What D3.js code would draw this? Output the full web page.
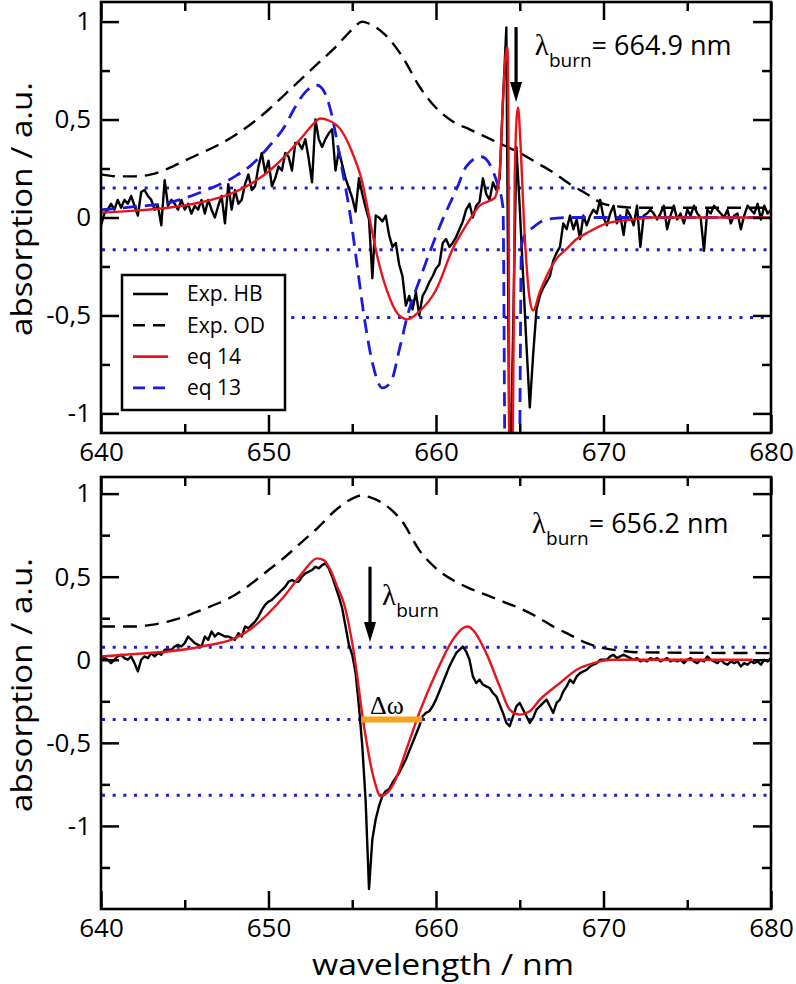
<!DOCTYPE html>
<html><head><meta charset="utf-8">
<script src="https://cdn.jsdelivr.net/npm/d3@7"></script>
<style>body{margin:0;background:#fff} svg{display:block}</style>
</head><body><svg id="c" width="796" height="984"></svg>
<script>
// ---------- DATA ----------
const hbStart = 640, hbStep = 0.2;
// Exp. HB, top panel (burn at 664.9 nm), one row per nm
const hbTop = [
-0.04, 0.02, 0.04, 0.07, 0.04,
0.09, 0.05, 0.09, 0.07, 0.11,
0.06, 0.01, 0.13, 0.14, 0.11,
0.09, 0.04, 0.06, -0.04, 0.19,
0.06, 0.09, 0.07, 0.04, 0.09,
0.04, 0.07, 0.02, 0.06, 0.04,
0.09, 0.02, 0.09, 0.04, 0.00,
0.06, 0.11, -0.03, 0.17, 0.04,
0.14, 0.07, 0.09, 0.17, 0.22,
0.14, 0.16, 0.26, 0.33, 0.23,
0.29, 0.16, 0.20, 0.26, 0.24,
0.33, 0.31, 0.24, 0.38, 0.38,
0.35, 0.40, 0.30, 0.18, 0.50,
0.40, 0.36, 0.40, 0.43, 0.45,
0.24, 0.34, 0.27, 0.20, 0.15,
0.10, 0.03, 0.20, 0.12, 0.05,
-0.01, -0.31, 0.01, 0.00, -0.02,
0.01, -0.09, -0.15, -0.13, -0.24,
-0.30, -0.45, -0.40, -0.47, -0.38,
-0.50, -0.40, -0.37, -0.33, -0.30,
-0.26, -0.24, -0.13, -0.11, -0.15,
-0.13, -0.10, -0.06, -0.02, 0.04,
0.07, 0.00, 0.06, 0.08, 0.20,
0.12, 0.09, 0.18, 0.14, 0.20,
0.60, 0.97, -1.50, -0.60, 0.36,
0.05, -0.30, -0.65, -0.97, -0.70,
-0.47, -0.40, -0.36, -0.33, -0.30,
-0.22, -0.18, -0.15, -0.03, -0.06,
0.01, -0.06, -0.01, -0.11, 0.01,
-0.04, 0.01, 0.04, 0.02, 0.09,
0.00, -0.04, 0.02, 0.06, -0.03,
0.01, -0.09, 0.04, 0.01, -0.04,
0.06, -0.15, 0.01, 0.02, 0.04,
0.02, -0.01, 0.02, 0.06, -0.06,
0.01, 0.06, -0.01, 0.02, -0.03,
0.04, 0.01, 0.06, 0.02, 0.00,
-0.17, 0.04, 0.02, 0.06, 0.04,
0.02, 0.00, 0.04, -0.03, 0.01,
0.02, -0.06, 0.01, 0.06, 0.04,
0.02, 0.07, -0.01, 0.06, 0.02,
0.04
];
// Exp. HB, bottom panel (burn at 656.2 nm)
const hbBottom = [
0.02, 0.01, 0.00, -0.02, 0.00,
0.02, 0.03, 0.01, 0.00, 0.02,
-0.02, -0.07, 0.00, 0.02, 0.01,
0.04, 0.02, 0.04, 0.03, 0.06,
0.06, 0.06, 0.08, 0.09, 0.08,
0.10, 0.14, 0.12, 0.10, 0.09,
0.08, 0.14, 0.12, 0.17, 0.14,
0.16, 0.15, 0.14, 0.14, 0.13,
0.12, 0.16, 0.14, 0.20, 0.19,
0.21, 0.23, 0.26, 0.30, 0.33,
0.35, 0.36, 0.38, 0.40, 0.42,
0.44, 0.47, 0.48, 0.47, 0.47,
0.50, 0.52, 0.53, 0.54, 0.56,
0.55, 0.57, 0.58, 0.55, 0.50,
0.44, 0.38, 0.31, 0.20, 0.09,
0.03, -0.08, -0.28, -0.52, -0.85,
-1.38, -1.08, -0.96, -0.88, -0.82,
-0.79, -0.78, -0.74, -0.71, -0.68,
-0.64, -0.60, -0.55, -0.50, -0.45,
-0.40, -0.34, -0.32, -0.31, -0.28,
-0.24, -0.19, -0.14, -0.09, -0.04,
0.00, 0.04, 0.06, 0.08, 0.05,
0.00, -0.10, -0.14, -0.12, -0.15,
-0.16, -0.17, -0.20, -0.22, -0.27,
-0.32, -0.38, -0.40, -0.34, -0.28,
-0.26, -0.30, -0.34, -0.38, -0.35,
-0.30, -0.28, -0.26, -0.24, -0.28,
-0.32, -0.26, -0.24, -0.19, -0.16,
-0.12, -0.14, -0.10, -0.08, -0.07,
-0.06, -0.04, -0.03, -0.02, 0.00,
0.00, 0.00, 0.02, 0.03, 0.01,
0.02, 0.03, 0.02, 0.01, 0.00,
0.01, -0.01, 0.00, -0.01, 0.01,
0.00, 0.01, -0.01, 0.00, 0.01,
-0.01, 0.00, -0.01, 0.00, -0.02,
0.00, 0.01, -0.01, -0.02, 0.00,
-0.01, 0.02, 0.00, -0.01, -0.02,
0.00, -0.02, -0.03, -0.01, -0.02,
-0.01, -0.04, -0.02, -0.03, -0.01,
-0.02, -0.01, -0.03, 0.00, -0.01,
0.01
];
// Exp. OD (black dashed)
const odTop = [[640,0.22],[641,0.21],[642,0.21],[643,0.22],[644,0.25],[645,0.29],[646,0.33],[647,0.37],[648,0.42],[649,0.48],[650,0.55],[651,0.63],[652,0.71],[653,0.79],[654,0.87],[655,0.96],[655.6,1.0],[656,0.99],[657,0.93],[658,0.82],[659,0.67],[660,0.56],[661,0.49],[662,0.45],[663,0.41],[664,0.37],[665,0.33],[666,0.28],[667,0.23],[668,0.17],[669,0.12],[670,0.07],[671,0.055],[672,0.05],[680,0.05]];
const odBottom = [[640,0.2],[641,0.2],[642,0.2],[643,0.21],[644,0.23],[645,0.26],[646,0.3],[647,0.34],[648,0.39],[649,0.46],[650,0.54],[651,0.62],[652,0.71],[653,0.8],[654,0.9],[655,0.97],[655.6,0.99],[656,0.98],[657,0.93],[658,0.83],[659,0.66],[660,0.55],[661,0.48],[662,0.43],[663,0.39],[664,0.35],[665,0.31],[666,0.26],[667,0.2],[668,0.15],[669,0.1],[670,0.07],[671,0.055],[672,0.045],[680,0.04]];
// eq 14 (red)
const eq14Top = [[640,0.025],[642,0.035],[644,0.05],[645,0.062],[646,0.078],[647,0.1],[648,0.13],[649,0.175],[650,0.235],[651,0.315],[652,0.41],[652.6,0.47],[653.1,0.505],[653.6,0.495],[654.3,0.45],[655.1,0.31],[655.6,0.18],[656,0.01],[656.5,-0.2],[657.1,-0.38],[657.7,-0.49],[658.3,-0.52],[659,-0.48],[660,-0.37],[661,-0.16],[661.8,-0.04],[662.6,0.06],[663.5,0.1],[663.8,0.23],[664,0.6],[664.15,0.82],[664.26,0.87],[664.32,0.5],[664.4,-1.5],[664.55,-1.5],[664.7,0.2],[664.85,0.54],[664.92,0.56],[665,0.45],[665.3,-0.1],[665.6,-0.42],[665.8,-0.475],[666.2,-0.38],[666.6,-0.3],[667.2,-0.21],[667.8,-0.16],[668.4,-0.11],[669,-0.08],[670.2,-0.03],[671.8,-0.01],[673,0],[680,0]];
const eq14Bottom = [[640,0.02],[642,0.035],[644,0.05],[646,0.08],[648,0.13],[649,0.19],[650,0.28],[651,0.39],[652,0.52],[652.9,0.61],[653.3,0.6],[653.7,0.54],[654.1,0.44],[654.5,0.34],[655.1,0.04],[655.7,-0.4],[656.3,-0.72],[656.7,-0.82],[657.1,-0.8],[657.5,-0.74],[658.3,-0.52],[659,-0.32],[660,-0.08],[661,0.12],[661.6,0.19],[661.9,0.2],[662.2,0.18],[663,0.04],[663.8,-0.16],[664.4,-0.3],[665,-0.33],[665.6,-0.31],[666.2,-0.24],[667.4,-0.14],[668.4,-0.06],[669.4,-0.02],[670.6,0],[678.9,0]];
// eq 13 (blue dashed, top only)
const eq13Top = [[640,0.04],[642,0.055],[644,0.075],[646,0.13],[648,0.21],[649,0.27],[650,0.36],[651,0.47],[651.5,0.55],[652.2,0.64],[652.9,0.675],[653.4,0.63],[653.7,0.55],[654.3,0.29],[654.9,0.0],[655.3,-0.25],[655.7,-0.5],[656.2,-0.74],[656.8,-0.87],[657.3,-0.84],[657.85,-0.66],[658.3,-0.5],[659.1,-0.3],[660.3,-0.03],[661.3,0.16],[661.8,0.26],[662.7,0.31],[663.6,0.19],[664.0,0.05],[664.15,-1.5],[664.95,-1.5],[665.1,-0.15],[665.3,-0.09],[665.8,-0.05],[666.6,-0.01],[668,0],[680,0]];
// reference dotted levels [value, start wavelength]
const dotsTop = [[0.15,640],[-0.165,640],[-0.51,651.3]];
const dotsBottom = [[0.075,640],[-0.36,640],[-0.815,640]];
// axes
const xMajor = [640,650,660,670,680];
const xMinor = [645,655,665,675];
const yMajor = [1,0.5,0,-0.5,-1];
const yMajorLabels = ["1","0,5","0","-0,5","-1"];
const yMinorTop = [0.75,0.25,-0.25,-0.75];
const yMinorBottom = [0.75,0.25,-0.25,-0.75,-1.25];
// annotations
const burnTop = {wl:664.78, from:0.972, to:0.59, label:"= 664.9 nm"};
const burnBottom = {wl:656.06, from:0.56, to:0.107};
const deltaOmega = {from:655.56, to:659.18, level:-0.36};
const legendItems = [
  {name:"Exp. HB", color:"#000", dash:null},
  {name:"Exp. OD", color:"#000", dash:"12 8"},
  {name:"eq 14", color:"#e8141c", dash:null},
  {name:"eq 13", color:"#1a1ae0", dash:"12 8"}
];

// ---------- DRAW ----------
const FONT = "'Open Sans', 'Noto Sans', sans-serif";
const RED = "#e8141c", BLUE = "#1a1ae0", DOT = "#1c1cc8";
const svg = d3.select("#c");
const x = d3.scaleLinear().domain([640,680]).range([101,771]);

function panel(cfg){
  const y = d3.scaleLinear().domain(cfg.yDomain).range([cfg.bottom, cfg.top]);
  const g = svg.append("g");
  svg.append("clipPath").attr("id", cfg.id).append("rect")
    .attr("x", x(640)).attr("y", cfg.top).attr("width", x(680)-x(640)).attr("height", cfg.bottom-cfg.top);
  const plot = g.append("g").attr("clip-path", `url(#${cfg.id})`);

  cfg.dots.forEach(([v, from]) => {
    plot.append("line").attr("x1", x(from)+1).attr("x2", x(680)-3)
      .attr("y1", y(v)).attr("y2", y(v))
      .attr("stroke", DOT).attr("stroke-width", 3).attr("stroke-dasharray", "3 7.67");
  });

  const hbLine = d3.line().x((d,i)=>x(hbStart+i*hbStep)).y(d=>y(d));
  const smooth = d3.line().x(d=>x(d[0])).y(d=>y(d[1])).curve(d3.curveMonotoneX);

  plot.append("path").attr("d", hbLine(cfg.hb)).attr("fill","none").attr("stroke","#000").attr("stroke-width",2.4).attr("stroke-linejoin","round");
  plot.append("path").attr("d", smooth(cfg.od)).attr("fill","none").attr("stroke","#000").attr("stroke-width",2.4).attr("stroke-dasharray","14 8");
  if (cfg.eq13) plot.append("path").attr("d", smooth(cfg.eq13)).attr("fill","none").attr("stroke",BLUE).attr("stroke-width",2.8).attr("stroke-dasharray","14 8");
  plot.append("path").attr("d", smooth(cfg.eq14)).attr("fill","none").attr("stroke",RED).attr("stroke-width",2.4);

  const styleAxis = sel => {
    sel.select(".domain").remove();
    sel.selectAll(".tick line").attr("stroke","#000").attr("stroke-width",2.5);
    sel.selectAll(".tick text").attr("font-family",FONT).attr("font-size",26).attr("fill","#000");
  };
  g.append("g").attr("transform",`translate(0,${cfg.bottom})`)
    .call(d3.axisBottom(x).tickValues(xMajor).tickSize(-18).tickSizeOuter(0).tickPadding(10).tickFormat(d3.format("d"))).call(styleAxis);
  g.append("g").attr("transform",`translate(0,${cfg.bottom})`)
    .call(d3.axisBottom(x).tickValues(xMinor).tickSize(-9).tickSizeOuter(0).tickFormat("")).call(styleAxis);
  g.append("g").attr("transform",`translate(0,${cfg.top})`)
    .call(d3.axisTop(x).tickValues(xMajor).tickSize(-18).tickSizeOuter(0).tickFormat("")).call(styleAxis);
  g.append("g").attr("transform",`translate(0,${cfg.top})`)
    .call(d3.axisTop(x).tickValues(xMinor).tickSize(-9).tickSizeOuter(0).tickFormat("")).call(styleAxis);
  g.append("g").attr("transform",`translate(${x(640)},0)`)
    .call(d3.axisLeft(y).tickValues(yMajor).tickSize(-18).tickSizeOuter(0).tickPadding(10).tickFormat((d,i)=>yMajorLabels[i])).call(styleAxis);
  g.append("g").attr("transform",`translate(${x(640)},0)`)
    .call(d3.axisLeft(y).tickValues(cfg.yMinor).tickSize(-9).tickSizeOuter(0).tickFormat("")).call(styleAxis);
  g.append("g").attr("transform",`translate(${x(680)},0)`)
    .call(d3.axisRight(y).tickValues(yMajor).tickSize(-18).tickSizeOuter(0).tickFormat("")).call(styleAxis);
  g.append("g").attr("transform",`translate(${x(680)},0)`)
    .call(d3.axisRight(y).tickValues(cfg.yMinor).tickSize(-9).tickSizeOuter(0).tickFormat("")).call(styleAxis);

  g.append("rect").attr("x", x(640)).attr("y", cfg.top).attr("width", x(680)-x(640)).attr("height", cfg.bottom-cfg.top)
    .attr("fill","none").attr("stroke","#000").attr("stroke-width",2.6);

  g.append("text").attr("transform",`translate(32,${cfg.titleY}) rotate(-90)`)
    .attr("text-anchor","middle").attr("font-family",FONT).attr("font-size",29.5).attr("fill","#000")
    .attr("textLength",254).attr("lengthAdjust","spacingAndGlyphs")
    .text("absorption / a.u.");
  return {g, y};
}

function arrow(g, xp, y1, y2){
  g.append("line").attr("x1",xp).attr("x2",xp).attr("y1",y1).attr("y2",y2-18).attr("stroke","#000").attr("stroke-width",3.2);
  g.append("path").attr("d",`M${xp-6},${y2-20} L${xp+6},${y2-20} L${xp},${y2} Z`).attr("fill","#000");
}
function burnLabel(g, xp, yp, rest){
  const t = g.append("text").attr("x",xp).attr("y",yp).attr("font-family",FONT).attr("font-size",27).attr("fill","#000");
  t.append("tspan").attr("font-family","'Liberation Serif', serif").attr("font-size",29).text("λ");
  t.append("tspan").attr("font-size",19).attr("dy",12).text("burn");
  if (rest) t.append("tspan").attr("dy",-12).text(rest);
  return t;
}

// top panel
const P1 = panel({id:"clipTop", top:2, bottom:433, yDomain:[-1.1,1.1], yMinor:yMinorTop,
  hb:hbTop, od:odTop, eq14:eq14Top, eq13:eq13Top, dots:dotsTop, titleY:209});
arrow(P1.g, x(burnTop.wl), P1.y(burnTop.from), P1.y(burnTop.to));
burnLabel(P1.g, x(665.9), P1.y(0.83), burnTop.label);

// legend
const lg = P1.g.append("g");
lg.append("rect").attr("x",122).attr("y",275).attr("width",163).attr("height",135).attr("fill","#fff").attr("stroke","#000").attr("stroke-width",2.5);
legendItems.forEach((d,i)=>{
  const yy = 294 + i*31.3;
  lg.append("line").attr("x1",133).attr("x2",168).attr("y1",yy).attr("y2",yy)
    .attr("stroke", d.color).attr("stroke-width",2.6).attr("stroke-dasharray", d.dash);
  lg.append("text").attr("x",187).attr("y",yy).attr("dy","0.35em").attr("font-family",FONT).attr("font-size",21).attr("fill","#000").text(d.name);
});

// bottom panel
const P2 = panel({id:"clipBot", top:477, bottom:909, yDomain:[-1.5,1.1], yMinor:yMinorBottom,
  hb:hbBottom, od:odBottom, eq14:eq14Bottom, eq13:null, dots:dotsBottom, titleY:685});
P2.g.append("line").attr("x1",x(deltaOmega.from)).attr("x2",x(deltaOmega.to))
  .attr("y1",P2.y(deltaOmega.level)).attr("y2",P2.y(deltaOmega.level))
  .attr("stroke","#f6a21c").attr("stroke-width",6);
arrow(P2.g, x(burnBottom.wl), P2.y(burnBottom.from), P2.y(burnBottom.to));
burnLabel(P2.g, x(656.78), P2.y(0.33), null);
burnLabel(P2.g, x(665.73), P2.y(0.763), "= 656.2 nm");
P2.g.append("text").attr("x",x(656.06)).attr("y",P2.y(-0.325)).attr("font-family","'Liberation Serif', serif").attr("font-size",26).attr("fill","#000").text("Δω");

// x title
svg.append("text").attr("x",443).attr("y",975).attr("text-anchor","middle").attr("font-family",FONT).attr("font-size",30).attr("fill","#000")
  .attr("textLength",262).attr("lengthAdjust","spacingAndGlyphs").text("wavelength / nm");
</script></body></html>
